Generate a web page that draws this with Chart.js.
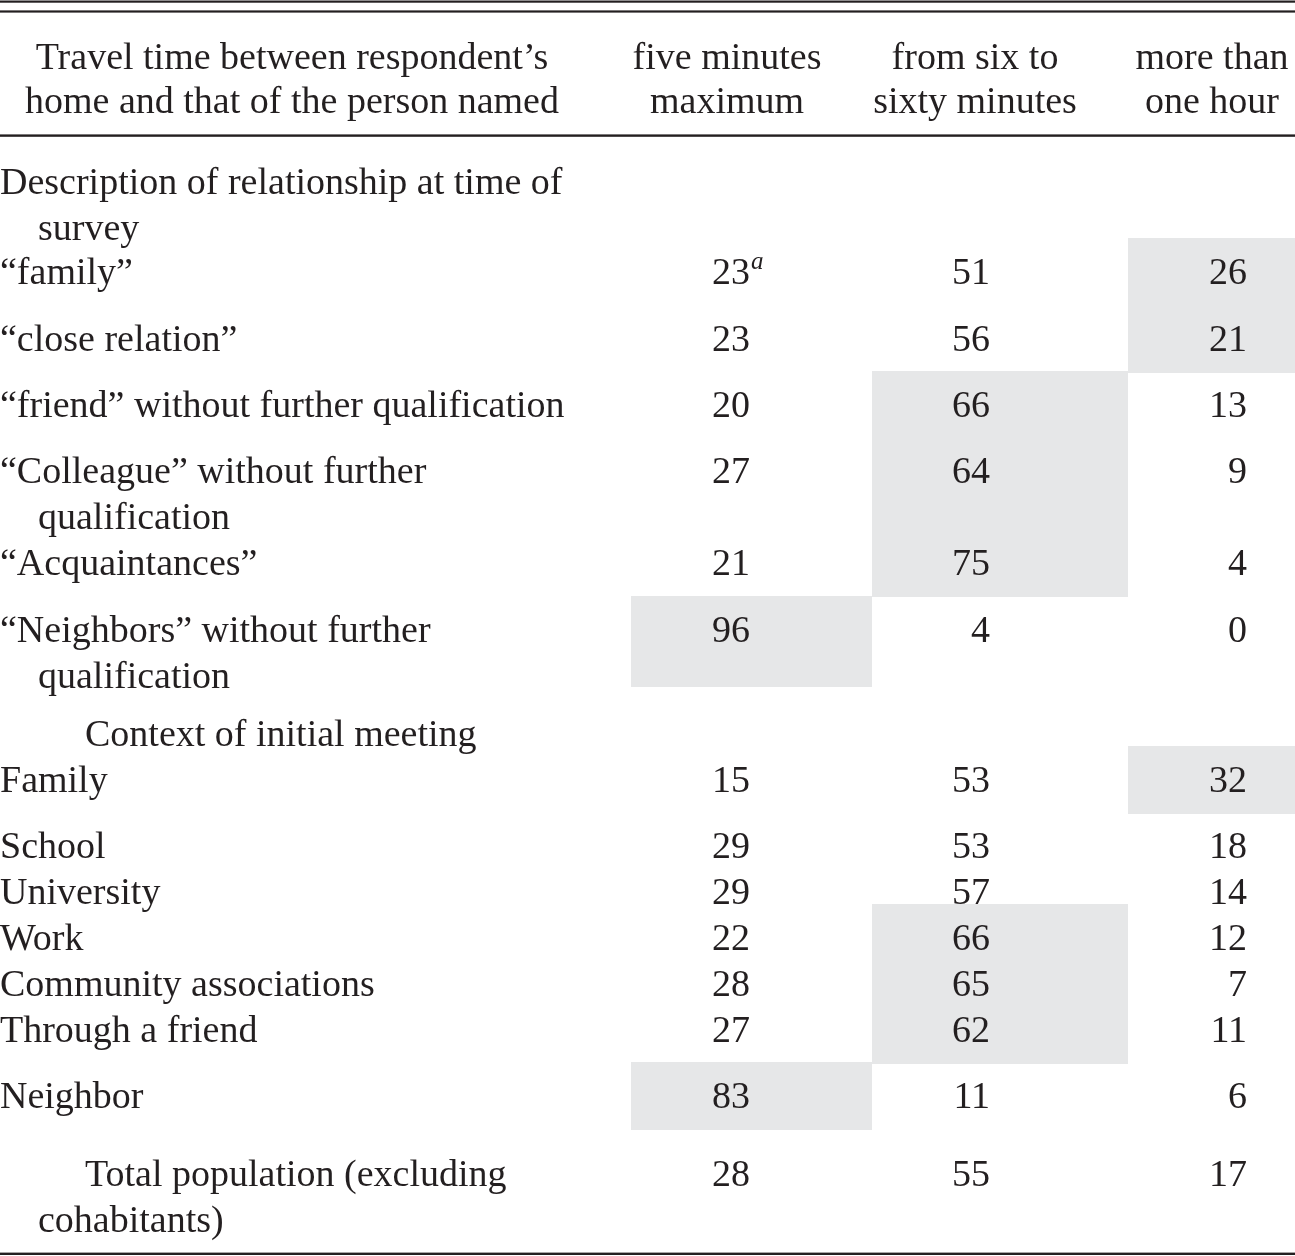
<!DOCTYPE html>
<html>
<head>
<meta charset="utf-8">
<script src="https://cdn.jsdelivr.net/npm/chart.js@4.4.1/dist/chart.umd.min.js"></script>
<style>
  html, body { margin: 0; padding: 0; background: #fff; }
  canvas { display: block; }
</style>
</head>
<body>
<canvas id="tbl" width="1295" height="1256"></canvas>
<script>
// table content
const headerLines = [
    ['Travel time between respondent\u2019s', 'home and that of the person named'],
    ['five minutes', 'maximum'],
    ['from six to', 'sixty minutes'],
    ['more than', 'one hour']
];

const rowLabels = [
    ['Description of relationship at time of', 'survey'],
    ['\u201cfamily\u201d'],
    ['\u201cclose relation\u201d'],
    ['\u201cfriend\u201d without further qualification'],
    ['\u201cColleague\u201d without further', 'qualification'],
    ['\u201cAcquaintances\u201d'],
    ['\u201cNeighbors\u201d without further', 'qualification'],
    ['Context of initial meeting'],
    ['Family'],
    ['School'],
    ['University'],
    ['Work'],
    ['Community associations'],
    ['Through a friend'],
    ['Neighbor'],
    ['Total population (excluding', 'cohabitants)']
];

const fiveMinutes  = [null, 23, 23, 20, 27, 21, 96, null, 15, 29, 29, 22, 28, 27, 83, 28];
const sixToSixty   = [null, 51, 56, 66, 64, 75,  4, null, 53, 53, 57, 66, 65, 62, 11, 55];
const overOneHour  = [null, 26, 21, 13,  9,  4,  0, null, 32, 18, 14, 12,  7, 11,  6, 17];
const fiveMinNotes = [null, 'a', null, null, null, null, null, null, null, null, null, null, null, null, null, null];

// which value column is shaded in each row (0,1,2) - null = none
const highlightCol = [null, 2, 2, 1, 1, 1, 0, null, 2, null, null, 1, 1, 1, 0, null];

// layout
const W = 1295, H = 1256;
const ink = '#231f20';
const shadeColor = '#e6e7e8';
const fontMain = '38px "Liberation Serif", "DejaVu Serif", serif';
const fontNote = 'italic 25px "Liberation Serif", "DejaVu Serif", serif';
const lineH = 46;
const firstLineY = 182;
const rowGap = [0, -2, 21, 20, 20, 0, 21, 12, 0, 20, 0, 0, 0, 0, 20, 32];
const firstIndent = [0, 0, 0, 0, 0, 0, 0, 85, 0, 0, 0, 0, 0, 0, 0, 85];
const contIndent = 38;
const headerCenters = [292, 727, 975, 1212];
const headerY = [57, 101];
const colRight = [750, 990, 1247];
const colEdges = [631, 872, 1128, W];
const rules = [[0.5, 2.2], [10.4, 2.2], [134.4, 2.4], [1252.6, 2.4]];
const baseShift = 12;

// vertical centre of every text line, row by row
const lineCenters = [];
let cursor = firstLineY - lineH;
rowLabels.forEach((lines, i) => {
    const ys = [];
    lines.forEach((l, k) => {
        cursor += lineH + (k == 0 ? rowGap[i] : 0);
        ys.push(cursor);
    });
    lineCenters.push(ys);
});

const valueCols = [fiveMinutes, sixToSixty, overOneHour];

const tablePlugin = {
    id: 'tableText',
    afterDraw(chart) {
        const ctx = chart.ctx;
        const x = chart.scales.x, y = chart.scales.y;
        ctx.save();

        // horizontal rules
        ctx.fillStyle = ink;
        rules.forEach(([ry, t]) => {
            ctx.fillRect(x.getPixelForValue(0), y.getPixelForValue(ry), x.getPixelForValue(W), t);
        });

        ctx.font = fontMain;
        ctx.textBaseline = 'alphabetic';

        // header
        ctx.textAlign = 'center';
        headerLines.forEach((lines, c) => {
            lines.forEach((t, k) => {
                ctx.fillText(t, x.getPixelForValue(headerCenters[c]), y.getPixelForValue(headerY[k] + baseShift));
            });
        });

        // body rows, top to bottom so each shaded cell sits over the row above
        rowLabels.forEach((lines, i) => {
            const ys = lineCenters[i];
            const hc = highlightCol[i];
            if (hc != null) {
                const top = ys[0] - 34;
                let bottom = ys[ys.length - 1] + 34 - 23 * (ys.length - 1);
                if (highlightCol[i + 1] == hc) bottom = lineCenters[i + 1][0] - 33;
                ctx.fillStyle = shadeColor;
                const x0 = x.getPixelForValue(colEdges[hc]);
                const x1 = x.getPixelForValue(colEdges[hc + 1]);
                const y0 = y.getPixelForValue(top);
                const y1 = y.getPixelForValue(bottom);
                ctx.fillRect(x0, y0, x1 - x0, y1 - y0);
            }

            ctx.fillStyle = ink;
            ctx.font = fontMain;
            ctx.textAlign = 'left';
            lines.forEach((t, k) => {
                const ind = k == 0 ? firstIndent[i] : contIndent;
                ctx.fillText(t, x.getPixelForValue(ind), y.getPixelForValue(ys[k] + baseShift));
            });

            ctx.textAlign = 'right';
            valueCols.forEach((vals, j) => {
                if (vals[i] == null) return;
                const el = chart.getDatasetMeta(j).data[i];
                ctx.font = fontMain;
                ctx.fillText(String(vals[i]), el.x, el.y);
                if (j == 0 && fiveMinNotes[i]) {
                    ctx.font = fontNote;
                    ctx.textAlign = 'left';
                    ctx.fillText(fiveMinNotes[i], el.x + 1, el.y - 15);
                    ctx.textAlign = 'right';
                }
            });
        });

        ctx.restore();
    }
};

new Chart(document.getElementById('tbl'), {
    type: 'scatter',
    data: {
        // one anchor point per row; rows without a value are simply not labelled
        datasets: valueCols.map((vals, j) => ({
            label: headerLines[j + 1].join(' '),
            data: vals.map((v, i) => ({ x: colRight[j], y: lineCenters[i][0] + baseShift })),
            pointRadius: 0,
            showLine: false
        }))
    },
    options: {
        responsive: false,
        animation: false,
        devicePixelRatio: 1,
        events: [],
        layout: { padding: 0 },
        scales: {
            x: { type: 'linear', min: 0, max: W, display: false },
            y: { type: 'linear', min: 0, max: H, reverse: true, display: false }
        },
        plugins: {
            legend: { display: false },
            tooltip: { enabled: false }
        }
    },
    plugins: [tablePlugin]
});
</script>
</body>
</html>
